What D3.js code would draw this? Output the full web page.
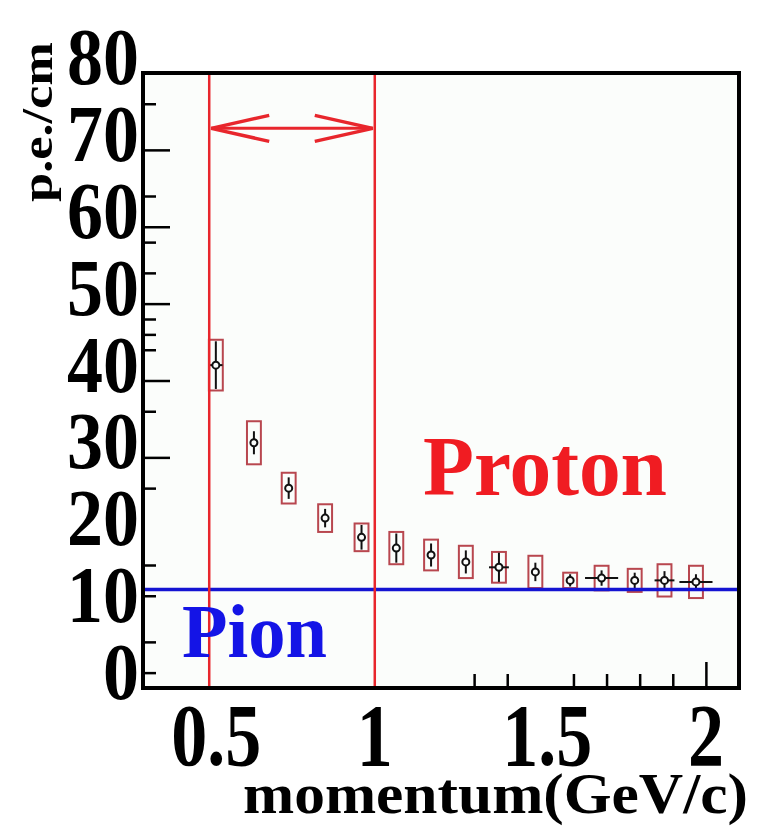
<!DOCTYPE html>
<html>
<head>
<meta charset="utf-8">
<script src="https://cdn.jsdelivr.net/npm/d3@7"></script>
<style>
  html, body { margin: 0; padding: 0; background: #ffffff; }
  svg { display: block; }
  text { font-family: "Liberation Serif", "Times New Roman", serif; font-weight: bold; }
</style>
</head>
<body>
<svg id="chart" width="759" height="826"></svg>
<script>
// Photo-electron yield per cm versus momentum
const momentum = [0.52, 0.635, 0.74, 0.85, 0.96, 1.065, 1.17, 1.275, 1.375, 1.485, 1.59, 1.685, 1.785, 1.875, 1.97];
const peCm     = [42.0, 31.9, 26.0, 22.1, 19.6, 18.2, 17.3, 16.4, 15.7, 15.1, 14.0, 14.3, 14.0, 14.0, 13.8];
const statErr  = [3.1, 1.5, 1.4, 1.2, 1.6, 1.9, 1.5, 1.5, 1.9, 1.2, 0.8, 1.0, 1.0, 1.2, 1.0];
const sysErr   = [3.3, 2.8, 2.0, 1.8, 1.8, 2.1, 2.0, 2.1, 2.0, 2.1, 1.0, 1.6, 1.5, 2.1, 2.1];
const momErr   = [0.02, 0, 0, 0, 0, 0, 0, 0, 0.03, 0, 0, 0.05, 0, 0.03, 0.05];

// Axis ticks and labels
const xLabels = [0.5, 1, 1.5, 2];
const xMajorTicks = [2];
const xMinorTicks = [1.3, 1.4, 1.6, 1.7, 1.8, 1.9];
const yLabels = [0, 10, 20, 30, 40, 50, 60, 70, 80];
const yMajorTicks = [30, 40, 50, 60, 70, 80];
const yMinorTicks = [2, 6, 12, 16, 26, 36, 44, 46, 48, 54, 58, 64, 76];

// Reference levels and the selected momentum window
const pionLevel = 12.8;
const windowEdges = [0.5, 1.0];
const arrowLevel = 72.8;

const svg = d3.select("#chart");
const x = d3.scaleLinear().domain([0.3, 2.1]).range([143, 739]);
const y = d3.scaleLinear().domain([0, 80]).range([688, 73]);

const plot = svg.append("g");

// plot area
plot.append("rect")
  .attr("x", x(0.3)).attr("y", y(80))
  .attr("width", x(2.1) - x(0.3)).attr("height", y(0) - y(80))
  .attr("fill", "#fbfdfb");

// systematic boxes
plot.selectAll("rect.sys").data(momentum).join("rect")
  .attr("class", "sys")
  .attr("x", d => x(d - 0.021))
  .attr("width", d => x(d + 0.021) - x(d - 0.021))
  .attr("y", (d, i) => y(peCm[i] + sysErr[i]))
  .attr("height", (d, i) => y(peCm[i] - sysErr[i]) - y(peCm[i] + sysErr[i]))
  .attr("fill", "none").attr("stroke", "#b8474f").attr("stroke-width", 2);

// statistical error bars
plot.selectAll("line.stat").data(momentum).join("line")
  .attr("x1", d => x(d)).attr("x2", d => x(d))
  .attr("y1", (d, i) => y(peCm[i] + statErr[i]))
  .attr("y2", (d, i) => y(peCm[i] - statErr[i]))
  .attr("stroke", "#111").attr("stroke-width", 2);

plot.selectAll("line.merr").data(momentum).join("line")
  .attr("x1", (d, i) => x(d - momErr[i])).attr("x2", (d, i) => x(d + momErr[i]))
  .attr("y1", (d, i) => y(peCm[i])).attr("y2", (d, i) => y(peCm[i]))
  .attr("stroke", "#111").attr("stroke-width", 2);

plot.selectAll("circle.pt").data(momentum).join("circle")
  .attr("cx", d => x(d)).attr("cy", (d, i) => y(peCm[i]))
  .attr("r", 3.5)
  .attr("fill", "#fbfdfb").attr("stroke", "#111").attr("stroke-width", 2);

// pion level
plot.append("line")
  .attr("x1", x(0.3)).attr("x2", x(2.1))
  .attr("y1", y(pionLevel)).attr("y2", y(pionLevel))
  .attr("stroke", "#1414d2").attr("stroke-width", 3.5);

// momentum window
plot.selectAll("line.edge").data(windowEdges).join("line")
  .attr("x1", d => x(d)).attr("x2", d => x(d))
  .attr("y1", y(80)).attr("y2", y(0))
  .attr("stroke", "#e8262c").attr("stroke-width", 2.5);

const ay = y(arrowLevel);
const xa = x(windowEdges[0]) + 2, xb = x(windowEdges[1]) - 2;
plot.append("line").attr("x1", xa).attr("x2", xb).attr("y1", ay).attr("y2", ay)
  .attr("stroke", "#e8262c").attr("stroke-width", 3);
plot.append("path")
  .attr("d", `M${xa + 58},${ay - 13}L${xa},${ay}L${xa + 58},${ay + 13}M${xb - 58},${ay - 13}L${xb},${ay}L${xb - 58},${ay + 13}`)
  .attr("fill", "none").attr("stroke", "#e8262c").attr("stroke-width", 3.5);

// frame
plot.append("rect")
  .attr("x", x(0.3)).attr("y", y(80))
  .attr("width", x(2.1) - x(0.3)).attr("height", y(0) - y(80))
  .attr("fill", "none").attr("stroke", "#000").attr("stroke-width", 4);

// ticks
const yAxisMajor = d3.axisRight(y).tickValues(yMajorTicks).tickSize(27).tickFormat("");
const yAxisMinor = d3.axisRight(y).tickValues(yMinorTicks).tickSize(13).tickFormat("");
[yAxisMajor, yAxisMinor].forEach(ax => {
  const g = plot.append("g").attr("transform", `translate(${x(0.3)},0)`).call(ax);
  g.select(".domain").remove();
  g.selectAll("line").attr("stroke", "#000").attr("stroke-width", 2.5);
});
const xAxisMajor = d3.axisTop(x).tickValues(xMajorTicks).tickSize(26).tickFormat("");
const xAxisMinor = d3.axisTop(x).tickValues(xMinorTicks).tickSize(14).tickFormat("");
[xAxisMajor, xAxisMinor].forEach(ax => {
  const g = plot.append("g").attr("transform", `translate(0,${y(0)})`).call(ax);
  g.select(".domain").remove();
  g.selectAll("line").attr("stroke", "#000").attr("stroke-width", 2.5);
});

// tick labels
svg.append("g").selectAll("text").data(yLabels).join("text")
  .attr("transform", d => `translate(139,${y(d) + 11}) scale(1,1.11)`)
  .attr("text-anchor", "end")
  .attr("font-size", 72)
  .attr("fill", "#000")
  .text(d => d);

svg.append("g").selectAll("text").data(xLabels).join("text")
  .attr("transform", d => `translate(${x(d) + (d % 1 ? 7 : 0)},765) scale(1,1.23)`)
  .attr("text-anchor", "middle")
  .attr("font-size", 72)
  .attr("fill", "#000")
  .text(d => d);

// axis titles
svg.append("text")
  .attr("x", 748).attr("y", 813)
  .attr("text-anchor", "end")
  .attr("font-size", 58)
  .attr("textLength", 505).attr("lengthAdjust", "spacingAndGlyphs")
  .attr("fill", "#000")
  .text("momentum(GeV/c)");

svg.append("text")
  .attr("transform", "translate(52,42) rotate(-90)")
  .attr("text-anchor", "end")
  .attr("font-size", 44)
  .attr("textLength", 160).attr("lengthAdjust", "spacingAndGlyphs")
  .attr("fill", "#000")
  .text("p.e./cm");

// particle labels
svg.append("text")
  .attr("x", 182).attr("y", 657)
  .attr("font-size", 76)
  .attr("textLength", 145).attr("lengthAdjust", "spacingAndGlyphs")
  .attr("fill", "#1414e6")
  .text("Pion");

svg.append("text")
  .attr("x", 423).attr("y", 495)
  .attr("font-size", 84)
  .attr("textLength", 244).attr("lengthAdjust", "spacingAndGlyphs")
  .attr("fill", "#f01c22")
  .text("Proton");
</script>
</body>
</html>
